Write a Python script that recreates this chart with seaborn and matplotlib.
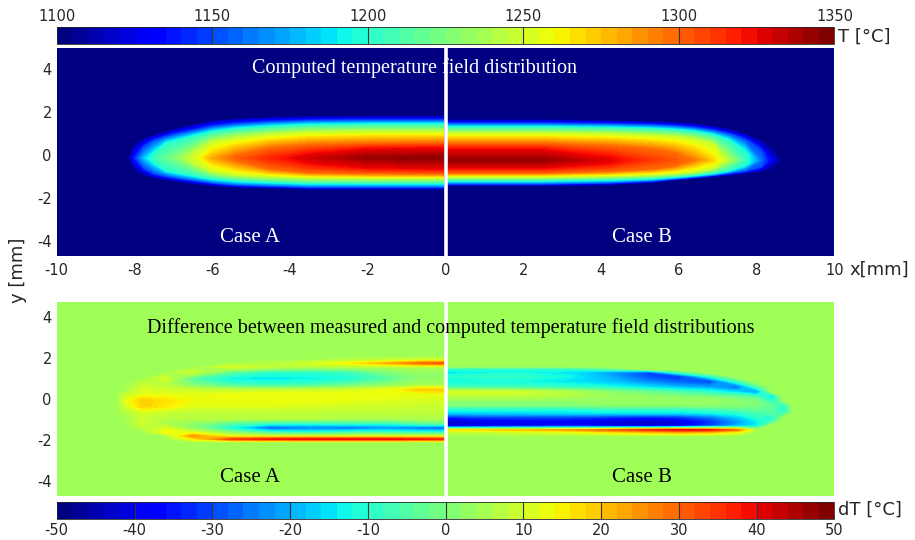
import numpy as np
import matplotlib
matplotlib.use("Agg")
import matplotlib.pyplot as plt
import seaborn as sns
from matplotlib.colors import Normalize
from matplotlib.cm import ScalarMappable

sns.set_style("white")
plt.rcParams["font.family"] = ["DejaVu Sans"]
plt.rcParams["axes.unicode_minus"] = False

N = None  # level not reached at that station (collapses onto the centre line)

# computed field, read as isotherm crossings: at each station x (mm) the y (mm)
# where the upper / lower flank passes each level; tc is the centre-line value
t_levels = [1100, 1150, 1200, 1250, 1300, 1325]

a_sx = [-8.17, -8.0, -7.75, -7.5, -7.2, -6.8, -6.4, -6.0, -5.4, -4.5, -3.5, -2.0, -0.05]
a_tc = [1100, 1140, 1180, 1205, 1218, 1235, 1255, 1282, 1302, 1318, 1332, 1345, 1348]
a_mid = -0.15
a_top = [
    [N, 0.55, 0.8, 0.95, 1.1, 1.3, 1.45, 1.6, 1.7, 1.76, 1.8, 1.82, 1.82],
    [N, N, 0.35, 0.65, 0.82, 1.0, 1.15, 1.3, 1.42, 1.52, 1.58, 1.6, 1.6],
    [N, N, N, 0.0, 0.5, 0.7, 0.88, 1.05, 1.2, 1.3, 1.38, 1.4, 1.4],
    [N, N, N, N, N, N, 0.1, 0.55, 0.75, 0.92, 1.02, 1.05, 1.05],
    [N, N, N, N, N, N, N, N, -0.05, 0.3, 0.45, 0.52, 0.55],
    [N, N, N, N, N, N, N, N, N, N, 0.05, 0.28, 0.32],
]
a_bot = [
    [N, -0.8, -0.98, -1.08, -1.18, -1.28, -1.38, -1.45, -1.52, -1.56, -1.6, -1.6, -1.6],
    [N, N, -0.6, -0.85, -0.98, -1.1, -1.2, -1.3, -1.4, -1.45, -1.5, -1.5, -1.5],
    [N, N, N, -0.3, -0.7, -0.85, -0.98, -1.1, -1.2, -1.27, -1.32, -1.32, -1.32],
    [N, N, N, N, N, N, -0.4, -0.75, -0.92, -1.0, -1.06, -1.08, -1.08],
    [N, N, N, N, N, N, N, N, -0.25, -0.65, -0.82, -0.86, -0.88],
    [N, N, N, N, N, N, N, N, N, N, -0.4, -0.62, -0.66],
]

b_sx = [0.05, 2.5, 4.2, 5.3, 5.9, 6.4, 6.9, 7.3, 7.7, 8.1, 8.4, 8.66]
b_tc = [1346, 1346, 1328, 1312, 1305, 1295, 1270, 1240, 1205, 1160, 1125, 1100]
b_mid = -0.25
b_top = [
    [1.65, 1.65, 1.6, 1.56, 1.52, 1.45, 1.35, 1.2, 1.0, 0.7, 0.4, N],
    [1.45, 1.45, 1.42, 1.38, 1.33, 1.25, 1.12, 0.95, 0.7, 0.2, N, N],
    [1.28, 1.28, 1.25, 1.2, 1.15, 1.07, 0.9, 0.65, 0.1, N, N, N],
    [0.98, 0.98, 0.95, 0.88, 0.82, 0.7, 0.45, N, N, N, N, N],
    [0.52, 0.52, 0.4, 0.25, 0.05, N, N, N, N, N, N, N],
    [0.25, 0.25, -0.1, N, N, N, N, N, N, N, N, N],
]
b_bot = [
    [-1.45, -1.45, -1.4, -1.3, -1.18, -1.1, -1.02, -0.95, -0.88, -0.8, -0.7, N],
    [-1.35, -1.35, -1.3, -1.22, -1.12, -1.04, -0.95, -0.85, -0.75, -0.55, N, N],
    [-1.2, -1.2, -1.16, -1.1, -1.02, -0.95, -0.85, -0.72, -0.45, N, N, N],
    [-1.02, -1.02, -0.98, -0.92, -0.86, -0.78, -0.6, N, N, N, N, N],
    [-0.84, -0.84, -0.76, -0.65, -0.5, N, N, N, N, N, N, N],
    [-0.62, -0.62, -0.4, N, N, N, N, N, N, N, N, N],
]

# measured minus computed (dT, degC); rows go from top to bottom
dt_bg = 5
da_x = [-8.45, -8.2, -7.8, -7.2, -6.5, -5.5, -4.5, -3.5, -2.5, -1.5, -0.6, -0.02]
da_y = [2.05, 1.9, 1.75, 1.55, 1.3, 1.0, 0.7, 0.45, 0.25, -0.05, -0.35, -0.65, -0.95, -1.2,
        -1.4, -1.6, -1.8, -1.95, -2.1]
da_dt = [
    [5, 5, 5, 5, 5, 5, 5, 5, 5, 5, 5, 5],
    [5, 5, 5, 5, 5, 5, 5, 5, 7, 9, 11, 11],
    [5, 5, 5, 5, 5, 5, 7, 11, 15, 22, 30, 32],
    [5, 5, 5, 5, 5, 11, 8, 6, 6, 6, 6, 6],
    [5, 5, 5, 5, 10, -4, -10, -10, -8, 0, 3, 3],
    [5, 5, 5, 11, -5, -14, -15, -14, -12, -5, 2, 2],
    [5, 5, 9, 7, 0, -7, -9, -7, -3, 2, 5, 5],
    [5, 5, 11, 10, 9, 8, 8, 9, 10, 13, 20, 20],
    [5, 9, 12, 12, 12, 13, 14, 14, 14, 14, 13, 13],
    [5, 13, 19, 17, 14, 14, 14, 14, 13, 12, 11, 11],
    [5, 11, 19, 16, 12, 12, 12, 11, 10, 10, 9, 9],
    [5, 7, 11, 9, 8, 8, 8, 8, 8, 8, 8, 8],
    [5, 5, 9, 7, 7, 7, 7, 7, 6, 6, 6, 6],
    [5, 5, 11, 5, 2, -5, -10, -10, -10, -10, -5, -3],
    [5, 5, 7, 11, 2, -14, -30, -26, -28, -24, -28, -30],
    [5, 5, 5, 15, 10, 0, -10, -12, -10, -10, -12, -12],
    [5, 5, 5, 5, 25, 12, 10, 10, 10, 10, 10, 10],
    [5, 5, 5, 5, 15, 34, 38, 40, 40, 40, 38, 36],
    [5, 5, 5, 5, 5, 5, 5, 5, 5, 5, 5, 5],
]
db_x = [0.02, 0.8, 2.0, 3.2, 4.2, 5.2, 6.0, 6.8, 7.5, 8.0, 8.4, 8.7, 8.95]
db_y = [1.6, 1.45, 1.3, 1.1, 0.85, 0.6, 0.35, 0.15, -0.05, -0.3, -0.5, -0.7, -0.9, -1.1,
        -1.3, -1.5, -1.62, -1.8]
db_dt = [
    [5, 5, 5, 5, 5, 5, 5, 5, 5, 5, 5, 5, 5],
    [-11, -11, -11, -11, -5, 5, 5, 5, 5, 5, 5, 5, 5],
    [-15, -14, -13, -15, -22, -30, -6, 5, 5, 5, 5, 5, 5],
    [-11, -9, -9, -13, -20, -30, -34, -10, 5, 5, 5, 5, 5],
    [-13, -13, -13, -15, -18, -24, -28, -32, -8, 5, 5, 5, 5],
    [-8, -8, -8, -10, -12, -16, -20, -22, -28, -6, 5, 5, 5],
    [11, 11, 10, 7, 2, -2, -6, -10, -16, -24, 5, 5, 5],
    [8, 8, 8, 6, 4, 2, 0, -2, -4, -8, -16, 5, 5],
    [3, 3, 3, 3, 4, 4, 4, 4, 2, 0, -12, 5, 5],
    [0, 0, 0, 0, 2, 2, 2, 2, 2, 0, -4, -10, 5],
    [-11, -11, -11, -11, -9, -9, -9, -7, -5, -3, -4, -12, 5],
    [-18, -18, -17, -16, -16, -16, -16, -14, -11, -7, -5, -8, 5],
    [-36, -32, -32, -32, -34, -36, -34, -27, -18, -10, -12, 5, 5],
    [-44, -42, -40, -40, -42, -44, -42, -33, -22, -14, -6, 5, 5],
    [-42, -40, -38, -38, -40, -42, -40, -31, -20, -14, 5, 5, 5],
    [16, 18, 20, 24, 30, 36, 40, 38, 28, 5, 5, 5, 5],
    [8, 8, 10, 12, 16, 20, 22, 20, 14, 5, 5, 5, 5],
    [5, 5, 5, 5, 5, 5, 5, 5, 5, 5, 5, 5, 5],
]

t_ticks = [1100, 1150, 1200, 1250, 1300, 1350]
dt_ticks = [-50, -40, -30, -20, -10, 0, 10, 20, 30, 40, 50]
x_ticks = [-10, -8, -6, -4, -2, 0, 2, 4, 6, 8, 10]
y_ticks = [-4, -2, 0, 2, 4]

jet = matplotlib.colormaps["jet"]
jet_steps = jet.resampled(50)
serif = "Liberation Serif"


def isotherm_grid(sx, tc, mid, top, bot):
    # rows: lower flank (1100 .. 1325), centre line, upper flank (1325 .. 1100)
    n = len(t_levels)
    X = np.tile(np.array(sx, float), (2 * n + 1, 1))
    Y = np.full(X.shape, float(mid))
    Z = np.tile(np.array(tc, float), (2 * n + 1, 1))
    for k, lev in enumerate(t_levels):
        for j in range(len(sx)):
            Z[k, j] = Z[2 * n - k, j] = min(lev, tc[j])
            if bot[k][j] is not None:
                Y[k, j] = bot[k][j]
            if top[k][j] is not None:
                Y[2 * n - k, j] = top[k][j]
    return X, Y, Z


fig = plt.figure(figsize=(9.15, 5.4), dpi=100)
left, width = 0.062, 0.850
cax_t = fig.add_axes([left, 0.9185, width, 0.0315])
ax_t = fig.add_axes([left, 0.526, width, 0.385])
ax_b = fig.add_axes([left, 0.0815, width, 0.359])
cax_b = fig.add_axes([left, 0.039, width, 0.0315])

# top: computed temperature field
ax_t.set_facecolor(jet(0.0))
lev_t = np.linspace(1100, 1350, 126)
for sx, tc, mid, top, bot in [(a_sx, a_tc, a_mid, a_top, a_bot), (b_sx, b_tc, b_mid, b_top, b_bot)]:
    X, Y, Z = isotherm_grid(sx, tc, mid, top, bot)
    ax_t.contourf(X, Y, Z, levels=lev_t, cmap=jet, extend="both")
ax_t.set_xlim(-10, 10)
ax_t.set_ylim(-4.7, 4.96)

# bottom: difference field, each case on its own grid, padded with background
norm_d = Normalize(-50, 50)
lev_d = np.linspace(-50, 50, 101)
ax_b.set_facecolor(jet(norm_d(dt_bg)))
za = np.pad(np.flipud(np.array(da_dt, float)), ((1, 1), (1, 0)), constant_values=dt_bg)
ax_b.contourf([-10] + da_x, [-5] + da_y[::-1] + [5], za, levels=lev_d, cmap=jet, extend="both")
zb = np.pad(np.flipud(np.array(db_dt, float)), ((1, 1), (0, 1)), constant_values=dt_bg)
ax_b.contourf(db_x + [10], [-5] + db_y[::-1] + [5], zb, levels=lev_d, cmap=jet, extend="both")
ax_b.set_xlim(-10, 10)
ax_b.set_ylim(-4.72, 4.72)

for ax in (ax_t, ax_b):
    ax.axvline(0, color="white", lw=2.6)
    ax.set_yticks(y_ticks)
    ax.tick_params(axis="y", length=0, pad=3.5, labelsize=10.5)
    for sp in ax.spines.values():
        sp.set_visible(False)
ax_t.set_xticks(x_ticks)
ax_t.tick_params(axis="x", length=0, pad=5, labelsize=10.5)
ax_b.set_xticks([])

ax_t.text(-0.8, 4.05, "Computed temperature field distribution", color="white",
          family=serif, fontsize=14.5, ha="center", va="center")
ax_t.text(-5.04, -3.86, "Case A", color="white", family=serif, fontsize=15, ha="center", va="center")
ax_t.text(5.04, -3.86, "Case B", color="white", family=serif, fontsize=15, ha="center", va="center")
ax_b.text(0.13, 3.45, "Difference between measured and computed temperature field distributions",
          color="black", family=serif, fontsize=14.5, ha="center", va="center")
ax_b.text(-5.04, -3.83, "Case A", color="black", family=serif, fontsize=15, ha="center", va="center")
ax_b.text(5.04, -3.83, "Case B", color="black", family=serif, fontsize=15, ha="center", va="center")

# colour bars
cb_t = fig.colorbar(ScalarMappable(Normalize(1100, 1350), jet_steps), cax=cax_t,
                    orientation="horizontal", ticks=t_ticks)
cax_t.xaxis.set_ticks_position("top")
cax_t.tick_params(length=0, pad=2, labelsize=10.5)
for v in t_ticks[1:-1]:
    cax_t.axvline(v, color="#333333", lw=0.8)
cb_t.outline.set_linewidth(0.6)
cax_t.text(1.004, 0.4, "T [°C]", transform=cax_t.transAxes, ha="left", va="center", fontsize=13)

cb_b = fig.colorbar(ScalarMappable(norm_d, jet_steps), cax=cax_b,
                    orientation="horizontal", ticks=dt_ticks)
cax_b.tick_params(length=0, pad=3, labelsize=10.5)
for v in dt_ticks[1:-1]:
    cax_b.axvline(v, color="#333333", lw=0.8)
cb_b.outline.set_linewidth(0.6)
cax_b.text(1.004, 0.55, "dT [°C]", transform=cax_b.transAxes, ha="left", va="center", fontsize=13)

fig.text(0.928, 0.5, "x[mm]", ha="left", va="center", fontsize=13)
fig.text(0.02, 0.5, "y [mm]", ha="center", va="center", rotation=90, fontsize=13)

fig.savefig("out.png", dpi=100)
